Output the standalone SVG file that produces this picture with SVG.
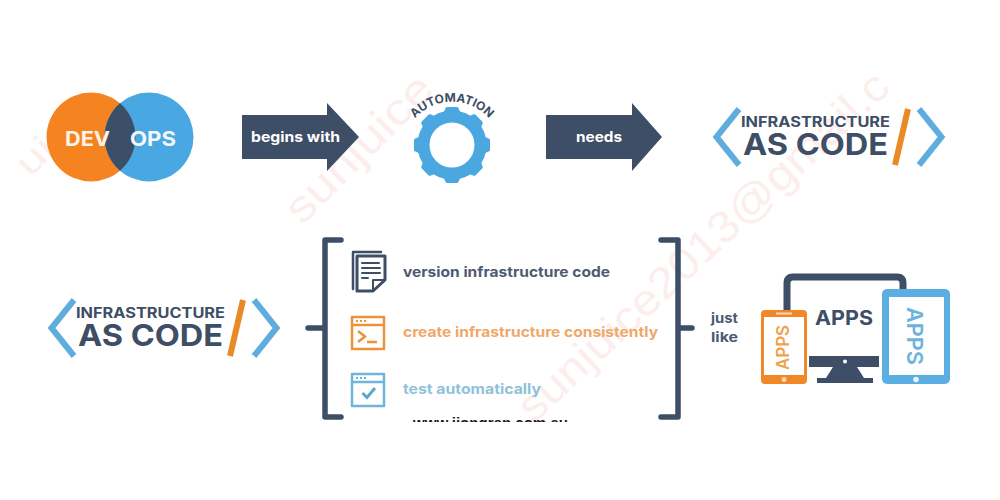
<svg xmlns="http://www.w3.org/2000/svg" width="1000" height="500" viewBox="0 0 1000 500">
<defs>
<style>
text{font-family:Inter,"Liberation Sans",sans-serif;font-weight:700}
.dark{fill:#3d4e66}.ds{fill:none;stroke:#3d4e66;stroke-linecap:round;stroke-linejoin:round}
.chev{fill:none;stroke:#5fadde;stroke-width:6}
.sl{stroke:#ea8a26;stroke-width:6}
.wm{fill:#fdeeee;font-family:"Liberation Sans",sans-serif;font-weight:400}
.lab{fill:#fff;font-size:14px}
.gear{fill:#4aa7e0;stroke:#4aa7e0;stroke-width:3;stroke-linejoin:round}
</style>
<clipPath id="cut"><rect x="400" y="405" width="180" height="17"/></clipPath>
<path id="tooth" d="M444.600 114L447 108.500H457L459.400 114Z"/>
</defs>
<rect width="1000" height="500" fill="#fff"/>
<g id="watermarks">
<text class="wm" font-size="44" transform="translate(534 424) rotate(-43)" textLength="490" lengthAdjust="spacingAndGlyphs">sunjuice2013@gmail.c</text>
<text class="wm" font-size="44" transform="translate(302 226) rotate(-45)" textLength="190" lengthAdjust="spacingAndGlyphs">sunjuice</text>
<text class="wm" font-size="36" transform="translate(30 178) rotate(-45)" textLength="90" lengthAdjust="spacingAndGlyphs">uice</text>
</g>
<g id="devops">
<circle cx="91" cy="137" r="44.5" fill="#f5831f"/>
<circle cx="149" cy="137" r="44.5" fill="#49a7e2"/>
<path d="M120 103.300A44.500 44.500 0 0 1 120 170.700A44.500 44.500 0 0 1 120 103.300Z" fill="#3c4f68"/>
<text x="65" y="146" font-size="20" fill="#fdf3e6" textLength="45" lengthAdjust="spacingAndGlyphs">DEV</text>
<text x="130" y="146" font-size="20" fill="#f1f8fd" textLength="46" lengthAdjust="spacingAndGlyphs">OPS</text>
</g>
<g id="arrow-begins">
<path class="dark" d="M242 115H327V103L359 137L327 171V159H242Z"/>
<text class="lab" x="251" y="142" textLength="89" lengthAdjust="spacingAndGlyphs">begins with</text>
</g>
<g id="automation">
<path id="arcA" d="M407 130A50 50 0 0 1 497 130" fill="none"/>
<circle cx="452" cy="145" r="28.500" fill="none" stroke="#4aa7e0" stroke-width="12"/>
<g class="gear">
<use href="#tooth"/>
<use href="#tooth" transform="rotate(45 452 145)"/>
<use href="#tooth" transform="rotate(90 452 145)"/>
<use href="#tooth" transform="rotate(135 452 145)"/>
<use href="#tooth" transform="rotate(180 452 145)"/>
<use href="#tooth" transform="rotate(225 452 145)"/>
<use href="#tooth" transform="rotate(270 452 145)"/>
<use href="#tooth" transform="rotate(315 452 145)"/>
</g>
<text font-size="12" fill="#3d4e66"><textPath href="#arcA" startOffset="50%" text-anchor="middle">AUTOMATION</textPath></text>
</g>
<g id="arrow-needs">
<path class="dark" d="M546 115H632V103L662 137L632 171V159H546Z"/>
<text class="lab" x="576" y="142" textLength="46" lengthAdjust="spacingAndGlyphs">needs</text>
</g>
<g id="iac-top">
<path class="chev" d="M739 109L716.500 137L739 165"/>
<path class="chev" d="M919 109L941.500 137L919 165"/>
<path class="sl" d="M908 109L895 165"/>
<text class="dark" x="741" y="127" font-size="14" textLength="149" lengthAdjust="spacingAndGlyphs">INFRASTRUCTURE</text>
<text class="dark" x="743" y="155" font-size="30" textLength="145" lengthAdjust="spacingAndGlyphs">AS CODE</text>
</g>
<g id="iac-bottom" transform="translate(-665 191)">
<path class="chev" d="M739 109L716.500 137L739 165"/>
<path class="chev" d="M919 109L941.500 137L919 165"/>
<path class="sl" d="M908 109L895 165"/>
<text class="dark" x="741" y="127" font-size="14" textLength="149" lengthAdjust="spacingAndGlyphs">INFRASTRUCTURE</text>
<text class="dark" x="743" y="155" font-size="30" textLength="145" lengthAdjust="spacingAndGlyphs">AS CODE</text>
</g>
<g id="connectors">
<path class="ds" stroke-width="5.500" d="M341 240H325V417H341M308 328H325"/>
<path class="ds" stroke-width="5.500" d="M661 240H678V417H661M678 328H692"/>
</g>
<g id="item-version">
<path class="ds" stroke-width="2.500" d="M381 252H353V289"/>
<path fill="#fff" stroke="#3d4e66" stroke-width="3" stroke-linejoin="round" d="M357 256H385V280L373 291H357Z"/>
<path class="ds" stroke-width="2" d="M373 291V280H385M362 263H379M362 268H380M362 273H380M362 278H368"/>
<text x="403" y="277" font-size="14" fill="#4d5a72" textLength="207" lengthAdjust="spacingAndGlyphs">version infrastructure code</text>
</g>
<g id="item-create">
<path fill="none" stroke="#ee9237" stroke-width="2.500" stroke-linejoin="round" d="M352 317H384V349H352ZM352 325H384"/>
<path fill="none" stroke="#ee9237" stroke-width="2.500" d="M358 331L365 336.500L358 342M367 342H377"/>
<path fill="none" stroke="#ee9237" stroke-width="2" stroke-dasharray="2 2" d="M356 321H366"/>
<text x="403" y="337" font-size="14" fill="#efa869" textLength="255" lengthAdjust="spacingAndGlyphs">create infrastructure consistently</text>
</g>
<g id="item-test">
<path fill="none" stroke="#6fb4da" stroke-width="2.500" stroke-linejoin="round" d="M352 374H384V406H352ZM352 382H384"/>
<path fill="none" stroke="#6fb4da" stroke-width="2" stroke-dasharray="2 2" d="M356 378H366"/>
<path fill="none" stroke="#5ea8d0" stroke-width="3" d="M362.500 393L367 397.500L375 388"/>
<text x="403" y="394" font-size="14" fill="#8fc2da" textLength="138" lengthAdjust="spacingAndGlyphs">test automatically</text>
</g>
<g id="just-like">
<text x="711" y="323" font-size="13" fill="#4d5a72" textLength="27" lengthAdjust="spacingAndGlyphs">just</text>
<text x="711" y="342" font-size="13" fill="#4d5a72" textLength="27" lengthAdjust="spacingAndGlyphs">like</text>
</g>
<g id="apps">
<path class="ds" stroke-width="7" d="M787 312V283Q787 277 793 277H897Q903 277 903 283V290"/>
<rect class="dark" x="809" y="356" width="70" height="11"/>
<circle cx="845" cy="361.500" r="2" fill="#fff"/>
<path class="dark" d="M833 367H857L864 378H873V383H817V378H826Z"/>
<rect x="761" y="310" width="46" height="74" rx="4" fill="#f0882a"/>
<rect x="764" y="317" width="40" height="58" fill="#fff"/>
<rect x="776" y="312.500" width="16" height="2" fill="#fbd7ae"/>
<circle cx="784" cy="379.500" r="2.500" fill="#fbd7ae"/>
<text transform="translate(789 370) rotate(-90)" font-size="17" style="font-weight:600" fill="#f0a24e" textLength="45" lengthAdjust="spacingAndGlyphs">APPS</text>
<text x="815" y="325" font-size="20" fill="#3d4e66" textLength="58" lengthAdjust="spacingAndGlyphs">APPS</text>
<rect x="882" y="289" width="68" height="95" rx="5" fill="#5aaee2"/>
<rect x="889" y="297" width="55" height="78" fill="#fff"/>
<circle cx="916" cy="379.500" r="2.800" fill="#e6f3fb"/>
<text transform="translate(907 307) rotate(90)" font-size="22" style="font-weight:600" fill="#6db4dc" textLength="58" lengthAdjust="spacingAndGlyphs">APPS</text>
</g>
<g id="footer" clip-path="url(#cut)">
<text x="413" y="428" font-size="15" fill="#1a1a1a" textLength="155" lengthAdjust="spacingAndGlyphs" style="font-family:'Liberation Sans',sans-serif">www.jiongren.com.au</text>
</g>
</svg>
